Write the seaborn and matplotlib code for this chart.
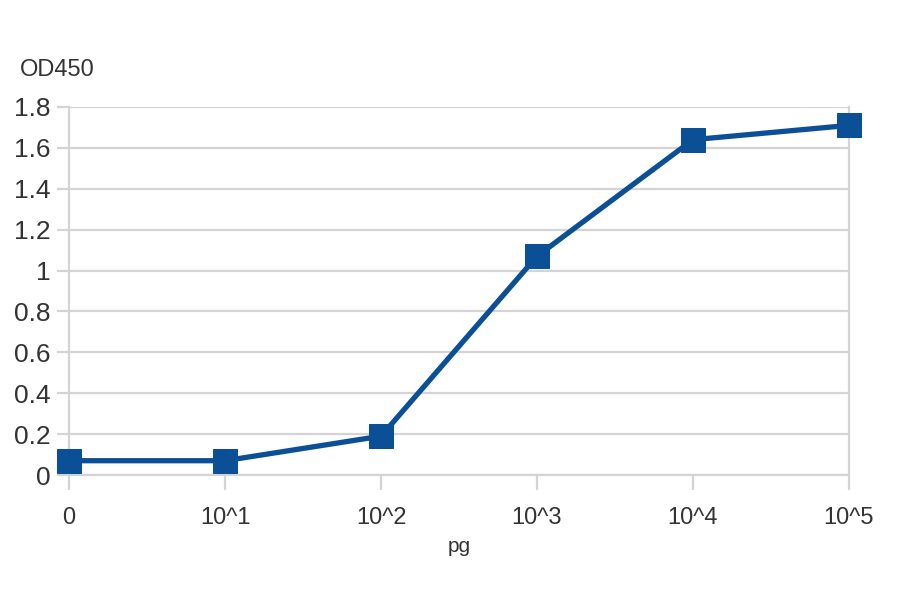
import matplotlib
matplotlib.use("Agg")
import matplotlib.pyplot as plt
import seaborn as sns
import numpy as np
import pandas as pd

# Chart data
doses = ["0", "10^1", "10^2", "10^3", "10^4", "10^5"]
od450 = [0.07, 0.07, 0.19, 1.07, 1.64, 1.71]
y_ticks = [0, 0.2, 0.4, 0.6, 0.8, 1, 1.2, 1.4, 1.6, 1.8]
y_tick_labels = ["0", "0.2", "0.4", "0.6", "0.8", "1", "1.2", "1.4", "1.6", "1.8"]


def main():
    sns.set_theme(style="white")
    plt.rcParams["font.family"] = ["Liberation Sans", "DejaVu Sans"]

    data = pd.DataFrame({"pos": np.arange(len(doses)), "OD450": od450})

    fig = plt.figure(figsize=(9, 5.94), dpi=100)
    ax = fig.add_axes([0.0767, 0.2003, 0.8666, 0.6196])

    grid_col = "#d4d4d4"
    line_col = "#0b4f96"

    sns.lineplot(data=data, x="pos", y="OD450", ax=ax, color=line_col,
                 linewidth=3.8, marker="s", markersize=17,
                 markeredgecolor=line_col, clip_on=False, zorder=5)

    ax.set_xlim(0, len(doses) - 1)
    ax.set_ylim(0, 1.8)
    ax.set_yticks(y_ticks)
    ax.set_yticklabels(y_tick_labels)
    ax.set_xticks(np.arange(len(doses)))
    ax.set_xticklabels(doses)

    ax.yaxis.grid(True, color=grid_col, linewidth=1.6)
    ax.xaxis.grid(False)
    ax.set_axisbelow(True)

    for side in ["left", "right", "bottom"]:
        ax.spines[side].set_visible(True)
        ax.spines[side].set_color(grid_col)
        ax.spines[side].set_linewidth(1.6)
    ax.spines["top"].set_visible(False)

    ax.tick_params(axis="y", length=9, width=1.6, color=grid_col, pad=4,
                   labelsize=19, labelcolor="#333333", left=True)
    ax.tick_params(axis="x", length=11, width=1.6, color=grid_col, pad=12,
                   labelsize=17, labelcolor="#333333", bottom=True)

    ax.set_xlabel("pg", fontsize=15, color="#333333", labelpad=6)
    ax.set_ylabel("")
    fig.text(20 / 900, 1 - 76 / 594, "OD450", fontsize=17, color="#333333")

    fig.savefig("out.png", dpi=100)


if __name__ == "__main__":
    main()
